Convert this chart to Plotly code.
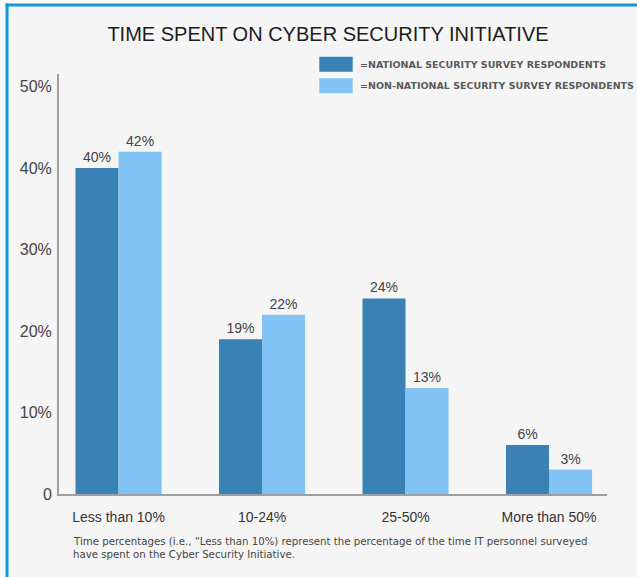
import plotly.graph_objects as go

# ---- data ----
categories = ["Less than 10%", "10-24%", "25-50%", "More than 50%"]
national = [40, 19, 24, 6]
non_national = [42, 22, 13, 3]
series_names = [
    "=NATIONAL SECURITY SURVEY RESPONDENTS",
    "=NON-NATIONAL SECURITY SURVEY RESPONDENTS",
]
y_tick_values = [0, 10, 20, 30, 40, 50]
y_tick_labels = ["0", "10%", "20%", "30%", "40%", "50%"]
title_text = "TIME SPENT ON CYBER SECURITY INITIATIVE"
footnote_lines = [
    "Time percentages (i.e., \u201cLess than 10%) represent the percentage of the time IT personnel surveyed",
    "have spent on the Cyber Security Initiative.",
]

# ---- styling ----
W, H = 637, 577
PLOT_L, PLOT_R, PLOT_T, PLOT_B = 59, 607, 74, 494
DARK = "#3a81b6"
LIGHT = "#81c3f4"
BORDER_BLUE = "#0f97d7"
BG = "#f5f5f5"
SANS = "Liberation Sans, Arial, Helvetica, sans-serif"
WIDE = "DejaVu Sans, Verdana, sans-serif"


def px(x):
    return (x - PLOT_L) / (PLOT_R - PLOT_L)


def py(y):
    return (PLOT_B - y) / (PLOT_B - PLOT_T)


fig = go.Figure()
for name, vals, col in [(series_names[0], national, DARK), (series_names[1], non_national, LIGHT)]:
    fig.add_trace(go.Bar(
        x=categories, y=vals, name=name,
        marker=dict(color=col, line=dict(width=0)),
        text=[f"{v}%" for v in vals], textposition="outside",
        textfont=dict(family=SANS, size=14, color="#444444"),
        cliponaxis=False, hoverinfo="x+y",
    ))

shapes = []
# page edge outside the blue frame
shapes.append(dict(type="rect", xref="paper", yref="paper", x0=px(0), x1=px(5.5), y0=py(577), y1=py(0),
                   fillcolor="#fbfbfb", line=dict(width=0), layer="below"))
shapes.append(dict(type="rect", xref="paper", yref="paper", x0=px(0), x1=px(637), y0=py(3.5), y1=py(0),
                   fillcolor="#fbfbfb", line=dict(width=0), layer="below"))
# blue frame on the left and top
shapes.append(dict(type="rect", xref="paper", yref="paper", x0=px(5.5), x1=px(8.5), y0=py(577), y1=py(3.5),
                   fillcolor=BORDER_BLUE, line=dict(width=0)))
shapes.append(dict(type="rect", xref="paper", yref="paper", x0=px(5.5), x1=px(637), y0=py(6.5), y1=py(3.5),
                   fillcolor=BORDER_BLUE, line=dict(width=0)))

annotations = []
# legend swatches and labels
for i, (name, col) in enumerate([(series_names[0], DARK), (series_names[1], LIGHT)]):
    top = 56.7 + i * 21.6
    shapes.append(dict(type="rect", xref="paper", yref="paper",
                       x0=px(319.3), x1=px(352.7), y0=py(top + 15), y1=py(top),
                       fillcolor=col, line=dict(width=0)))
    annotations.append(dict(xref="paper", yref="paper", x=px(358), y=py(top + 7.5),
                            xanchor="left", yanchor="middle", showarrow=False, text=name,
                            font=dict(family=WIDE, size=9.5, color="#5a5a5a", weight="bold")))

# footnote
for i, line in enumerate(footnote_lines):
    annotations.append(dict(xref="paper", yref="paper", x=px(71), y=py(541 + i * 13.7),
                            xanchor="left", yanchor="middle", showarrow=False, text=line,
                            font=dict(family=WIDE, size=10.2, color="#444444")))

fig.update_layout(
    width=W, height=H,
    margin=dict(l=PLOT_L, r=W - PLOT_R, t=PLOT_T, b=H - PLOT_B, autoexpand=False),
    paper_bgcolor=BG, plot_bgcolor=BG,
    barmode="group", bargap=0.4, bargroupgap=0,
    showlegend=False,
    title=dict(text=title_text, x=328 / W, xref="container", xanchor="center",
               y=1 - 34 / H, yref="container", yanchor="middle",
               font=dict(family=SANS, size=20, color="#1c1c1c")),
    xaxis=dict(range=[-0.415, 3.404], showgrid=False, zeroline=False,
               showline=True, linecolor="#9e9e9e", linewidth=2,
               ticks="", ticklabelstandoff=9,
               tickfont=dict(family=SANS, size=14, color="#333333")),
    yaxis=dict(range=[0, (PLOT_B - PLOT_T) / 8.15], showgrid=False, zeroline=False,
               showline=True, linecolor="#9e9e9e", linewidth=2,
               tickvals=y_tick_values, ticktext=y_tick_labels,
               ticks="", ticklabelstandoff=2,
               tickfont=dict(family=SANS, size=16, color="#444444")),
    shapes=shapes,
    annotations=annotations,
)

fig.write_html("out.html")
